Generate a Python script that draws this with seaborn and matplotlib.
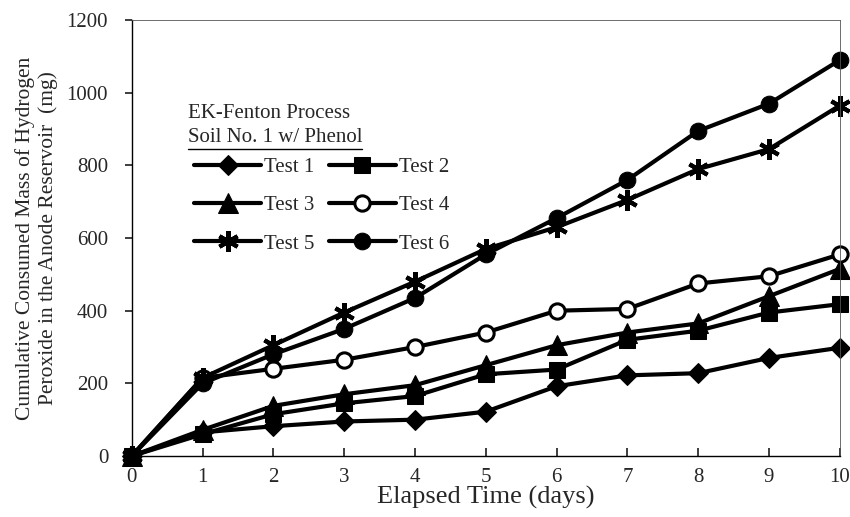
import matplotlib
matplotlib.use("Agg")
import matplotlib.pyplot as plt
import seaborn as sns
import pandas as pd

# elapsed time (days)
days = [0, 1, 2, 3, 4, 5, 6, 7, 8, 9, 10]

# cumulative consumed H2O2 in anode reservoir (mg)
test1 = [0, 65, 82, 95, 100, 122, 192, 222, 228, 270, 298]
test2 = [0, 60, 115, 145, 165, 225, 238, 320, 345, 395, 418]
test3 = [0, 72, 138, 170, 195, 250, 305, 340, 365, 440, 515]
test4 = [0, 215, 240, 265, 300, 340, 400, 405, 475, 495, 555]
test5 = [0, 215, 305, 395, 480, 570, 630, 705, 790, 845, 965]
test6 = [0, 200, 280, 350, 435, 555, 655, 760, 895, 970, 1090]

names = ["Test 1", "Test 2", "Test 3", "Test 4", "Test 5", "Test 6"]
series = [test1, test2, test3, test4, test5, test6]

rows = []
for name, vals in zip(names, series):
    for d, v in zip(days, vals):
        rows.append({"day": d, "mass": v, "test": name})
df = pd.DataFrame(rows)

sns.set_theme(style="ticks")
plt.rcParams["font.family"] = ["Liberation Serif", "DejaVu Serif"]

styles = {
    "Test 1": dict(marker="D", markersize=10, markerfacecolor="black"),
    "Test 2": dict(marker="s", markersize=12, markerfacecolor="black"),
    "Test 3": dict(marker="^", markersize=14, markerfacecolor="black"),
    "Test 4": dict(marker="o", markersize=11, markerfacecolor="white",
                   markeredgewidth=2.2),
    "Test 5": dict(marker=(6, 2, 0), markersize=15, markeredgewidth=3),
    "Test 6": dict(marker="o", markersize=12, markerfacecolor="black"),
}

fig, ax = plt.subplots(figsize=(8.5, 5.17), dpi=100)
fig.subplots_adjust(left=0.155, right=0.988, top=0.961, bottom=0.118)

for name in names:
    sns.lineplot(data=df[df["test"] == name], x="day", y="mass", ax=ax,
                 color="black", linewidth=3, markeredgecolor="black",
                 label=name, clip_on=False, **styles[name])

ax.set_xlim(0, 10)
ax.set_ylim(0, 1200)
ax.set_xticks(days)
ax.set_yticks(range(0, 1201, 200))
ax.tick_params(axis="x", direction="in", length=6, labelsize=15, pad=9)
ax.tick_params(axis="y", direction="out", length=5, labelsize=15, pad=12)
for sp in ax.spines.values():
    sp.set_linewidth(1.0)
    sp.set_color("black")
for sp in ["top", "right"]:
    ax.spines[sp].set_linewidth(0.6)
    ax.spines[sp].set_color("#555555")

ax.set_xlabel("Elapsed Time (days)", fontsize=19, labelpad=-1)
ax.set_ylabel("Cumulative Consumed Mass of Hydrogen\n"
              "Peroxide in the Anode Reservoir  (mg)", fontsize=15.5,
              linespacing=1.25, labelpad=6)

ax.text(0.079, 0.775, "EK-Fenton Process", transform=ax.transAxes,
        fontsize=15)
soil = ax.text(0.079, 0.72, "Soil No. 1 w/ Phenol", transform=ax.transAxes,
               fontsize=15)

# legend filled row by row, as in the original
h, l = ax.get_legend_handles_labels()
order = [0, 2, 4, 1, 3, 5]
ax.legend([h[i] for i in order], [l[i] for i in order],
          loc="upper left", bbox_to_anchor=(0.062, 0.728), ncol=2,
          frameon=False, fontsize=15, handlelength=3.2,
          handletextpad=0.15, columnspacing=0.7, labelspacing=0.9)

fig.canvas.draw()
bb = soil.get_window_extent().transformed(ax.transAxes.inverted())
ax.plot([bb.x0, bb.x1], [bb.y0 - 0.004, bb.y0 - 0.004],
        transform=ax.transAxes, color="black", linewidth=1.0)

fig.savefig("out.png", dpi=100)
